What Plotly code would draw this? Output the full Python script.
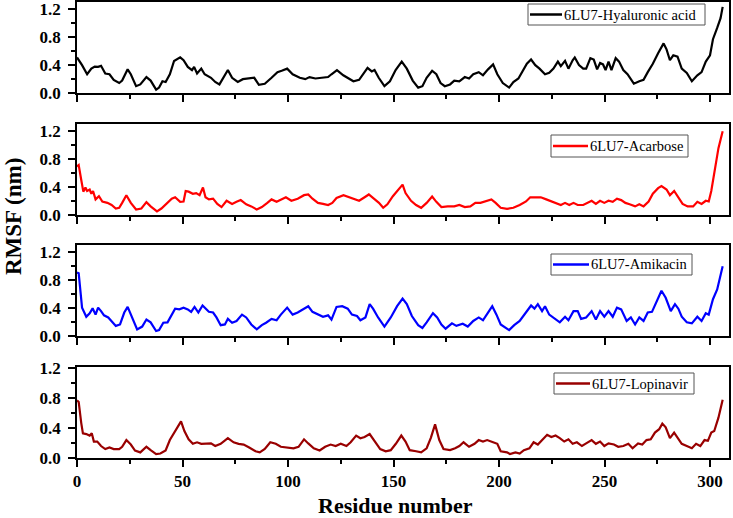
import plotly.graph_objects as go

# ---------------- data ----------------
res_hya = [0, 2.4, 4.8, 6.8, 8.4, 10, 11.4, 13.4, 15.4, 17.4, 20, 21.4, 24, 25.5, 28, 30, 32.9, 34.9, 37.5, 38.9,
           40.5, 42, 44, 46, 48.9, 50.5, 52.5, 54.5, 55.5, 56.9, 58.9, 60.5, 63.5, 65.5, 67.5, 71.5, 73.5, 76.2, 78.6, 81.6,
           84, 86.2, 89, 92.2, 95, 97, 99.6, 102.2, 105.6, 108.2, 110.2, 113, 116.2, 119, 120.6, 123.2, 126.2, 128.7, 131, 133.7,
           135.7, 137.7, 139.7, 141, 143, 145.7, 148.3, 151, 153.9, 156.3, 159.1, 161.7, 163.7, 165.7, 168.3, 170.3, 172.3, 174.3,
           176.8, 178.8, 181.2, 183.8, 185.8, 187.8, 190.4, 192.4, 194.8, 197.2, 199.2, 201.8, 204.8, 206.8, 209.2, 211.2, 213.2,
           215.2, 217.2, 219.2, 221.8, 223.8, 225.8, 227.9, 229.3, 231.3, 232.9, 234.9, 235.9, 237.9, 239.9, 241.3, 243.3, 244.9,
           246.5, 247.9, 249.3, 250.5, 251.9, 253.3, 255.3, 256.9, 258.9, 260.9, 263.9, 266.5, 268.5, 270.5, 272.9, 275.4, 278,
           279.4, 281, 282.6, 284.6, 286.6, 289, 291.4, 294, 296, 298, 300, 301.4, 303.4, 305, 306]
rmsf_hya = [0.51, 0.40, 0.27, 0.35, 0.38, 0.375, 0.39, 0.28, 0.27, 0.19, 0.145, 0.18, 0.34, 0.27, 0.10, 0.125, 0.23, 0.18,
            0.05, 0.08, 0.17, 0.16, 0.27, 0.46, 0.51, 0.47, 0.375, 0.33, 0.375, 0.28, 0.35, 0.27, 0.22, 0.16, 0.125, 0.33, 0.22,
            0.16, 0.20, 0.215, 0.22, 0.12, 0.135, 0.22, 0.30, 0.32, 0.35, 0.27, 0.22, 0.20, 0.23, 0.21, 0.22, 0.23, 0.27, 0.33,
            0.255, 0.21, 0.17, 0.19, 0.27, 0.36, 0.31, 0.33, 0.22, 0.10, 0.17, 0.33, 0.45, 0.35, 0.18, 0.08, 0.10, 0.22, 0.32,
            0.27, 0.145, 0.10, 0.125, 0.18, 0.17, 0.23, 0.21, 0.27, 0.30, 0.255, 0.34, 0.41, 0.27, 0.145, 0.08, 0.16, 0.21, 0.32,
            0.42, 0.48, 0.40, 0.35, 0.27, 0.29, 0.35, 0.45, 0.385, 0.46, 0.35, 0.47, 0.51, 0.40, 0.35, 0.35, 0.50, 0.48, 0.34,
            0.43, 0.41, 0.33, 0.45, 0.33, 0.50, 0.45, 0.33, 0.27, 0.135, 0.17, 0.19, 0.30, 0.42, 0.57, 0.71, 0.625, 0.47, 0.54,
            0.52, 0.35, 0.29, 0.17, 0.255, 0.30, 0.45, 0.54, 0.77, 0.93, 1.07, 1.23]

res_aca = [0, 0.8, 2, 3, 4, 4.8, 6, 6.8, 7.6, 8.8, 10.4, 12, 14.4, 16.4, 18.4, 20, 21.4, 23.4, 25.5, 28, 30.5, 32.9, 34.9,
           37.9, 40, 42.5, 44.9, 46.5, 48.9, 50.5, 51.5, 52.9, 54.9, 56.5, 58.1, 59.7, 60.9, 62.5, 64.5, 66.5, 68.5, 70.9, 73.5,
           75.6, 77.6, 80.2, 82.6, 85.2, 87.6, 90.2, 92.2, 94.6, 96.6, 99, 101.6, 104.6, 107.6, 109.6, 111.6, 114.2, 116.6, 119,
           121, 123, 126.3, 129, 131.7, 133.7, 136.3, 138.3, 140.7, 143.1, 145.1, 147.1, 149.7, 152.3, 154.3, 155.7, 158.3, 160.7,
           163.1, 165.7, 168.3, 170.3, 172.7, 175.7, 178.8, 181.2, 183.8, 186.4, 188.8, 191.2, 193.8, 196.4, 198.4, 200.8, 203.8,
           206.8, 209.8, 212.8, 214.8, 217.2, 219.8, 222.4, 224.8, 227.2, 229.3, 231.3, 233.3, 235.3, 237.3, 239.9, 241.9, 243.9,
           245.9, 247.9, 249.9, 251.9, 253.9, 255.9, 257.9, 259.9, 261.9, 264.5, 266.5, 268.5, 270.9, 272.9, 275.4, 277, 279.4,
           281, 283, 285, 287, 289.4, 292, 294, 296, 298, 299.4, 300.6, 302.6, 304, 306]
rmsf_aca = [0.69, 0.71, 0.50, 0.33, 0.39, 0.34, 0.36, 0.30, 0.34, 0.22, 0.265, 0.19, 0.17, 0.14, 0.09, 0.10, 0.17, 0.28, 0.17,
            0.076, 0.09, 0.18, 0.12, 0.05, 0.09, 0.155, 0.23, 0.25, 0.185, 0.19, 0.34, 0.33, 0.30, 0.31, 0.28, 0.39, 0.25, 0.22,
            0.23, 0.155, 0.11, 0.20, 0.155, 0.185, 0.21, 0.15, 0.12, 0.076, 0.11, 0.17, 0.22, 0.185, 0.22, 0.25, 0.20, 0.23,
            0.28, 0.29, 0.23, 0.17, 0.155, 0.14, 0.17, 0.24, 0.28, 0.25, 0.23, 0.20, 0.25, 0.29, 0.23, 0.17, 0.10, 0.15, 0.265,
            0.36, 0.43, 0.31, 0.20, 0.14, 0.10, 0.17, 0.26, 0.185, 0.11, 0.12, 0.12, 0.14, 0.11, 0.12, 0.17, 0.17, 0.20, 0.22,
            0.17, 0.10, 0.085, 0.10, 0.14, 0.19, 0.25, 0.25, 0.25, 0.22, 0.19, 0.17, 0.14, 0.17, 0.14, 0.17, 0.14, 0.14, 0.17,
            0.20, 0.155, 0.20, 0.17, 0.20, 0.185, 0.23, 0.21, 0.17, 0.15, 0.12, 0.15, 0.12, 0.19, 0.30, 0.38, 0.41, 0.36, 0.28,
            0.34, 0.25, 0.155, 0.12, 0.12, 0.185, 0.155, 0.20, 0.19, 0.34, 0.72, 0.95, 1.19]

res_ami = [0, 0.8, 2.4, 4.4, 6, 7.4, 8.8, 10, 11.4, 12.8, 14.8, 16.4, 18.4, 20.4, 22.4, 24, 26, 28.5, 30.9, 32.9, 34.9, 37.5,
           38.9, 40.9, 42.9, 44.9, 46.5, 48.5, 50.5, 52.5, 54.1, 55.7, 57.5, 59.5, 60.9, 62.5, 64.5, 66.1, 68.1, 70.1, 71.5, 73.5,
           75.6, 78.2, 80.2, 82.6, 85.2, 87.6, 89.6, 92.2, 94.6, 96.6, 99.6, 102.2, 104.6, 107, 109.6, 111.6, 114.6, 116.6, 119,
           120.6, 123, 125.7, 128.3, 130.3, 132.7, 134.3, 136.7, 138.7, 140.3, 142.7, 145.7, 148.7, 151.7, 154.3, 156.3, 158.7,
           161.7, 163.7, 165.7, 168.7, 170.7, 172.7, 174.7, 177.7, 179.8, 182.8, 185.2, 187.8, 190.4, 192.4, 194.8, 196.8, 198.8,
           200.8, 204.8, 207.2, 209.8, 212.4, 215.2, 216.8, 218.4, 220.4, 221.8, 223.8, 226.8, 228.8, 231.3, 232.9, 235.3, 237.3,
           238.9, 241.3, 243.9, 245.9, 247.9, 249.9, 251.9, 253.9, 255.9, 257.9, 260.5, 262.5, 264.5, 266.5, 268.5, 270.5, 272.5,
           274.9, 277, 279, 281.4, 283.4, 285, 286.6, 289, 291.4, 294, 296, 298, 299.4, 301.4, 303.4, 306]
rmsf_ami = [0.91, 0.90, 0.41, 0.28, 0.33, 0.40, 0.31, 0.41, 0.36, 0.30, 0.27, 0.22, 0.15, 0.17, 0.34, 0.42, 0.27, 0.10, 0.14,
            0.24, 0.20, 0.076, 0.09, 0.195, 0.20, 0.31, 0.395, 0.385, 0.41, 0.385, 0.35, 0.42, 0.34, 0.44, 0.395, 0.35, 0.34,
            0.27, 0.16, 0.17, 0.25, 0.195, 0.22, 0.31, 0.27, 0.17, 0.10, 0.16, 0.195, 0.25, 0.23, 0.31, 0.41, 0.31, 0.34, 0.385,
            0.43, 0.35, 0.31, 0.28, 0.30, 0.24, 0.42, 0.43, 0.395, 0.31, 0.29, 0.23, 0.27, 0.46, 0.395, 0.27, 0.14, 0.27, 0.43,
            0.54, 0.46, 0.29, 0.16, 0.12, 0.20, 0.33, 0.27, 0.17, 0.11, 0.185, 0.15, 0.18, 0.14, 0.22, 0.27, 0.23, 0.34, 0.43,
            0.31, 0.17, 0.09, 0.16, 0.22, 0.33, 0.44, 0.395, 0.46, 0.36, 0.43, 0.31, 0.24, 0.20, 0.28, 0.23, 0.36, 0.36, 0.25,
            0.27, 0.36, 0.24, 0.36, 0.28, 0.36, 0.28, 0.41, 0.385, 0.22, 0.27, 0.17, 0.27, 0.22, 0.34, 0.35, 0.50, 0.65, 0.55,
            0.36, 0.46, 0.395, 0.28, 0.20, 0.185, 0.28, 0.22, 0.33, 0.31, 0.53, 0.67, 1.00]

res_lop = [0, 0.8, 2, 2.8, 4.4, 6, 7, 8, 9.6, 11.4, 13.4, 15.4, 17.4, 20, 21.4, 23.4, 25.5, 27.5, 30, 32.9, 34.9, 37.5, 39.5,
           42, 44, 46, 48.1, 49.3, 50.9, 52.9, 54.9, 56.9, 58.9, 60.9, 63.5, 65.5, 68.1, 71.5, 74.2, 76.6, 79, 81.6, 84.6, 86.6,
           89, 91.6, 94.2, 96.6, 99.6, 102.6, 105, 107.6, 109.6, 112.2, 115, 117.6, 120.2, 122.6, 125, 127.7, 129.7, 132.3, 134.3,
           136.3, 138.7, 140.7, 143.7, 146.3, 148.7, 151.1, 153.7, 155.7, 157.7, 160.7, 163.1, 165.7, 167.7, 169.7, 171.7, 173.7,
           176.8, 179.2, 181.2, 183.2, 185.8, 188.4, 190.4, 192.4, 194.4, 197.2, 199.2, 200.8, 203.8, 205.2, 207.8, 209.8, 211.8,
           214.4, 216.4, 218.4, 220.4, 222.8, 224.8, 226.8, 228.8, 230.9, 232.9, 234.9, 236.9, 239.3, 241.3, 243.9, 245.9, 247.9,
           249.9, 251.9, 254.5, 256.5, 258.9, 261.3, 263.3, 265.9, 267.9, 269.9, 271.9, 273.9, 275.9, 277.4, 279, 281, 283, 284.6,
           286.6, 289, 291.4, 293.4, 295.4, 297.4, 299, 300.6, 302, 304, 306]
rmsf_lop = [0.77, 0.75, 0.47, 0.33, 0.32, 0.30, 0.33, 0.22, 0.22, 0.16, 0.12, 0.14, 0.12, 0.12, 0.15, 0.24, 0.18, 0.10, 0.075,
            0.15, 0.105, 0.053, 0.06, 0.10, 0.24, 0.34, 0.43, 0.49, 0.36, 0.25, 0.19, 0.21, 0.19, 0.195, 0.195, 0.16, 0.19, 0.265,
            0.21, 0.19, 0.18, 0.14, 0.09, 0.075, 0.12, 0.21, 0.19, 0.15, 0.14, 0.13, 0.15, 0.25, 0.195, 0.13, 0.10, 0.15, 0.18,
            0.16, 0.19, 0.16, 0.21, 0.30, 0.265, 0.28, 0.32, 0.24, 0.12, 0.09, 0.105, 0.19, 0.30, 0.22, 0.105, 0.09, 0.075, 0.13,
            0.27, 0.45, 0.24, 0.12, 0.105, 0.13, 0.16, 0.21, 0.15, 0.19, 0.24, 0.22, 0.24, 0.21, 0.19, 0.09, 0.075, 0.053, 0.075,
            0.06, 0.105, 0.13, 0.21, 0.18, 0.24, 0.31, 0.28, 0.30, 0.265, 0.22, 0.25, 0.19, 0.21, 0.16, 0.195, 0.24, 0.19, 0.22,
            0.16, 0.195, 0.18, 0.15, 0.16, 0.19, 0.13, 0.195, 0.18, 0.24, 0.25, 0.34, 0.385, 0.46, 0.41, 0.265, 0.34, 0.265, 0.19,
            0.16, 0.13, 0.19, 0.16, 0.24, 0.23, 0.34, 0.36, 0.54, 0.78]

series_names = ["6LU7-Hyaluronic acid", "6LU7-Acarbose", "6LU7-Amikacin", "6LU7-Lopinavir"]
x_tick_vals = [0, 50, 100, 150, 200, 250, 300]
y_tick_vals = [0.0, 0.4, 0.8, 1.2]
y_tick_text = ["0.0", "0.4", "0.8", "1.2"]

# ---------------- styling ----------------
W, H = 733, 518
ML, MR, MT, MB = 77, 4, 2, 60
colors = ["#000000", "#FF0000", "#0000FF", "#990000"]
domains = [[0.8, 1.0], [0.5333, 0.7333], [0.2667, 0.4667], [0.0, 0.2]]
y_tops = [1.30, 1.30, 1.30, 1.22]
# legend boxes in pixel coords: (box left, box right, box top, box bottom, sample line start, sample line end)
legend_px = [(528, 705, 4, 25, 530, 562),
             (551, 688, 135, 157, 553, 588),
             (551, 692, 254, 275, 553, 589),
             (554, 694, 373, 394, 556, 590)]
FONT = "Liberation Serif"

PW, PH = W - ML - MR, H - MT - MB


def px_x(X):
    return (X - ML) / PW


def px_y(Y):
    return (H - MB - Y) / PH


data = [(res_hya, rmsf_hya), (res_aca, rmsf_aca), (res_ami, rmsf_ami), (res_lop, rmsf_lop)]

fig = go.Figure()
layout = dict(
    template="none",
    width=W, height=H,
    margin=dict(l=ML, r=MR, t=MT, b=MB, autoexpand=False),
    paper_bgcolor="white", plot_bgcolor="white",
    font=dict(family=FONT, color="black"),
    showlegend=False,
)
shapes = []
annotations = []

for i, ((xs, ys), name, col) in enumerate(zip(data, series_names, colors)):
    k = "" if i == 0 else str(i + 1)
    fig.add_trace(go.Scatter(
        x=xs, y=ys, mode="lines", name=name,
        line=dict(color=col, width=2.2),
        xaxis="x" + k, yaxis="y" + k,
    ))
    layout["xaxis" + k] = dict(
        domain=[0, 1], anchor="y" + k, range=[0, 309], automargin=False,
        tickmode="array", tickvals=x_tick_vals,
        showticklabels=(i == 3),
        ticks="outside", ticklen=7, tickwidth=1.5, tickcolor="black",
        minor=dict(ticks="outside", ticklen=4, tickwidth=1.5, tickcolor="black",
                   tickmode="linear", tick0=0, dtick=25, showgrid=False),
        showline=True, linecolor="black", linewidth=1.5, mirror=True,
        showgrid=False, zeroline=False,
        tickfont=dict(family=FONT, size=17, color="black", weight="bold"),
    )
    layout["yaxis" + k] = dict(
        domain=domains[i], anchor="x" + k, range=[0, y_tops[i]], automargin=False,
        tickmode="array", tickvals=y_tick_vals, ticktext=y_tick_text,
        ticks="outside", ticklen=7, tickwidth=1.5, tickcolor="black",
        ticklabelstandoff=4, ticklabeloverflow="allow",
        minor=dict(ticks="outside", ticklen=4, tickwidth=1.5, tickcolor="black",
                   tickmode="linear", tick0=0, dtick=0.2, showgrid=False),
        showline=True, linecolor="black", linewidth=1.5, mirror=True,
        showgrid=False, zeroline=False,
        tickfont=dict(family=FONT, size=17, color="black", weight="bold"),
    )
    # legend box (drawn as shapes + text)
    bl, br, bt, bb, ls, le = legend_px[i]
    yc = (bt + bb) / 2
    shapes.append(dict(type="rect", xref="paper", yref="paper",
                       x0=px_x(bl), x1=px_x(br), y0=px_y(bb), y1=px_y(bt),
                       line=dict(color="#555555", width=1), fillcolor="white", layer="above"))
    shapes.append(dict(type="line", xref="paper", yref="paper",
                       x0=px_x(ls), x1=px_x(le), y0=px_y(yc), y1=px_y(yc),
                       line=dict(color=col, width=2.5), layer="above"))
    annotations.append(dict(text=name, x=px_x(le), y=px_y(yc), xref="paper", yref="paper",
                            showarrow=False, xanchor="left", yanchor="middle",
                            font=dict(family=FONT, size=14.5, color="black")))

annotations += [
    dict(text="RMSF (nm)", x=px_x(14), y=px_y(217), xref="paper", yref="paper",
         textangle=-90, showarrow=False, xanchor="center", yanchor="middle",
         font=dict(family=FONT, size=23, color="black", weight="bold")),
    dict(text="Residue number", x=px_x(395), y=px_y(505), xref="paper", yref="paper",
         showarrow=False, xanchor="center", yanchor="middle",
         font=dict(family=FONT, size=22, color="black", weight="bold")),
]
layout["shapes"] = shapes
layout["annotations"] = annotations

fig.update_layout(**layout)
fig.write_html("out.html",
               config={"displayModeBar": False},
               post_script="document.body.style.margin='0';document.body.style.padding='0';")
